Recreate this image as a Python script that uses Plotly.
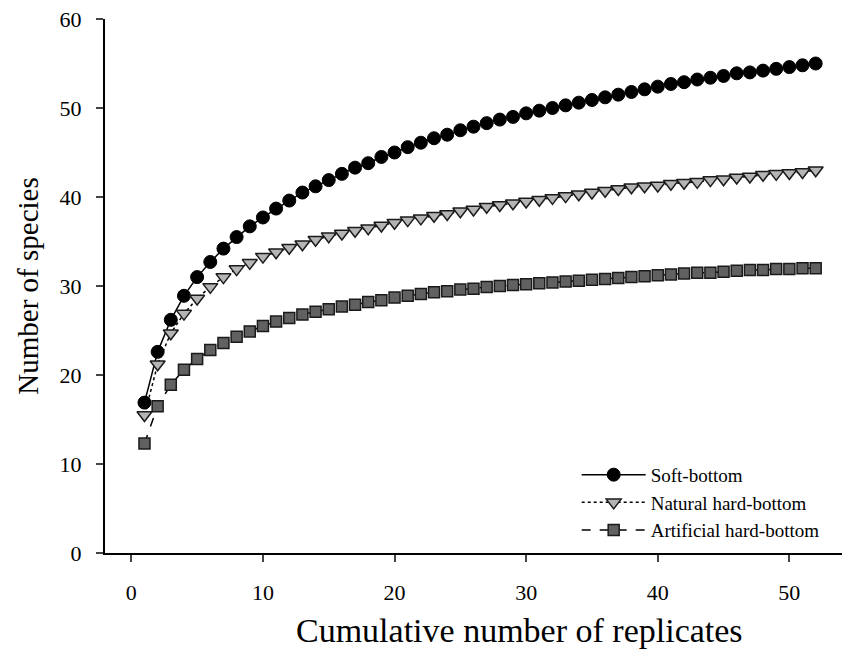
import plotly.graph_objects as go

replicates = list(range(1, 53))

soft_bottom = [16.9, 22.6, 26.2, 28.9, 31.0, 32.7, 34.2, 35.5, 36.7, 37.7,
               38.7, 39.6, 40.5, 41.2, 41.9, 42.6, 43.3, 43.8, 44.5, 45.0,
               45.6, 46.1, 46.6, 47.0, 47.5, 47.9, 48.3, 48.7, 49.0, 49.4,
               49.7, 50.0, 50.3, 50.6, 50.9, 51.2, 51.5, 51.8, 52.1, 52.4,
               52.7, 52.9, 53.2, 53.4, 53.6, 53.9, 54.0, 54.2, 54.4, 54.6,
               54.8, 55.0]

natural_hard = [15.5, 21.2, 24.7, 26.9, 28.6, 29.9, 31.0, 31.9, 32.6, 33.3,
                33.8, 34.3, 34.7, 35.2, 35.6, 35.9, 36.2, 36.5, 36.8, 37.1,
                37.4, 37.6, 37.9, 38.1, 38.4, 38.6, 38.9, 39.1, 39.3, 39.5,
                39.7, 39.9, 40.1, 40.3, 40.5, 40.7, 40.9, 41.1, 41.2, 41.3,
                41.5, 41.6, 41.7, 41.9, 42.0, 42.2, 42.3, 42.5, 42.6, 42.7,
                42.8, 43.0]

artificial_hard = [12.3, 16.5, 18.9, 20.6, 21.8, 22.8, 23.6, 24.3, 24.9, 25.5,
                   26.0, 26.4, 26.8, 27.1, 27.4, 27.7, 27.9, 28.2, 28.4, 28.7,
                   28.9, 29.1, 29.3, 29.4, 29.6, 29.7, 29.9, 30.0, 30.1, 30.2,
                   30.3, 30.4, 30.5, 30.6, 30.7, 30.8, 30.9, 31.0, 31.1, 31.2,
                   31.3, 31.4, 31.5, 31.5, 31.6, 31.7, 31.8, 31.8, 31.9, 31.9,
                   32.0, 32.0]

x_ticks = [0, 10, 20, 30, 40, 50]
y_ticks = [0, 10, 20, 30, 40, 50, 60]

FONT = "Liberation Serif, Times New Roman, serif"

fig = go.Figure()
fig.add_trace(go.Scatter(
    x=replicates, y=soft_bottom, name="Soft-bottom", mode="lines+markers",
    line=dict(color="black", width=1.5, dash="solid"),
    marker=dict(symbol="circle", size=13, color="black",
                line=dict(color="black", width=1))))
fig.add_trace(go.Scatter(
    x=replicates, y=natural_hard, name="Natural hard-bottom", mode="lines+markers",
    line=dict(color="black", width=1.5, dash="dot"),
    marker=dict(symbol="triangle-down", size=13, color="#b4b4b4",
                line=dict(color="#1a1a1a", width=1.5))))
fig.add_trace(go.Scatter(
    x=replicates, y=artificial_hard, name="Artificial hard-bottom", mode="lines+markers",
    line=dict(color="black", width=1.5, dash="dash"),
    marker=dict(symbol="square", size=11, color="#616161",
                line=dict(color="#1a1a1a", width=1.5))))

fig.update_layout(
    width=842, height=652,
    margin=dict(l=105, r=0, t=19, b=99),
    paper_bgcolor="white", plot_bgcolor="white",
    font=dict(family=FONT, color="black", size=22),
    showlegend=True,
    legend=dict(x=0.64, y=0.182, xanchor="left", yanchor="top",
                bgcolor="rgba(0,0,0,0)", font=dict(family=FONT, size=19),
                itemwidth=64, tracegroupgap=0),
    annotations=[dict(
        text="Cumulative number of replicates", xref="paper", yref="paper",
        x=0.562, y=-0.145, xanchor="center", yanchor="middle", showarrow=False,
        font=dict(family=FONT, size=34))],
)
fig.update_xaxes(
    range=[-2, 54], tickvals=x_ticks, ticks="outside", ticklen=7, tickwidth=1.5,
    showline=True, linewidth=2, linecolor="black", showgrid=False, zeroline=False,
    tickfont=dict(family=FONT, size=22), ticklabelstandoff=12,
)
fig.update_yaxes(
    range=[0, 60], tickvals=y_ticks, ticks="outside", ticklen=7, tickwidth=1.5,
    showline=True, linewidth=2, linecolor="black", showgrid=False, zeroline=False,
    tickfont=dict(family=FONT, size=22), ticklabelstandoff=10,
    title=dict(text="Number of species",
               font=dict(family=FONT, size=29), standoff=12),
)

fig.write_html("out.html")
